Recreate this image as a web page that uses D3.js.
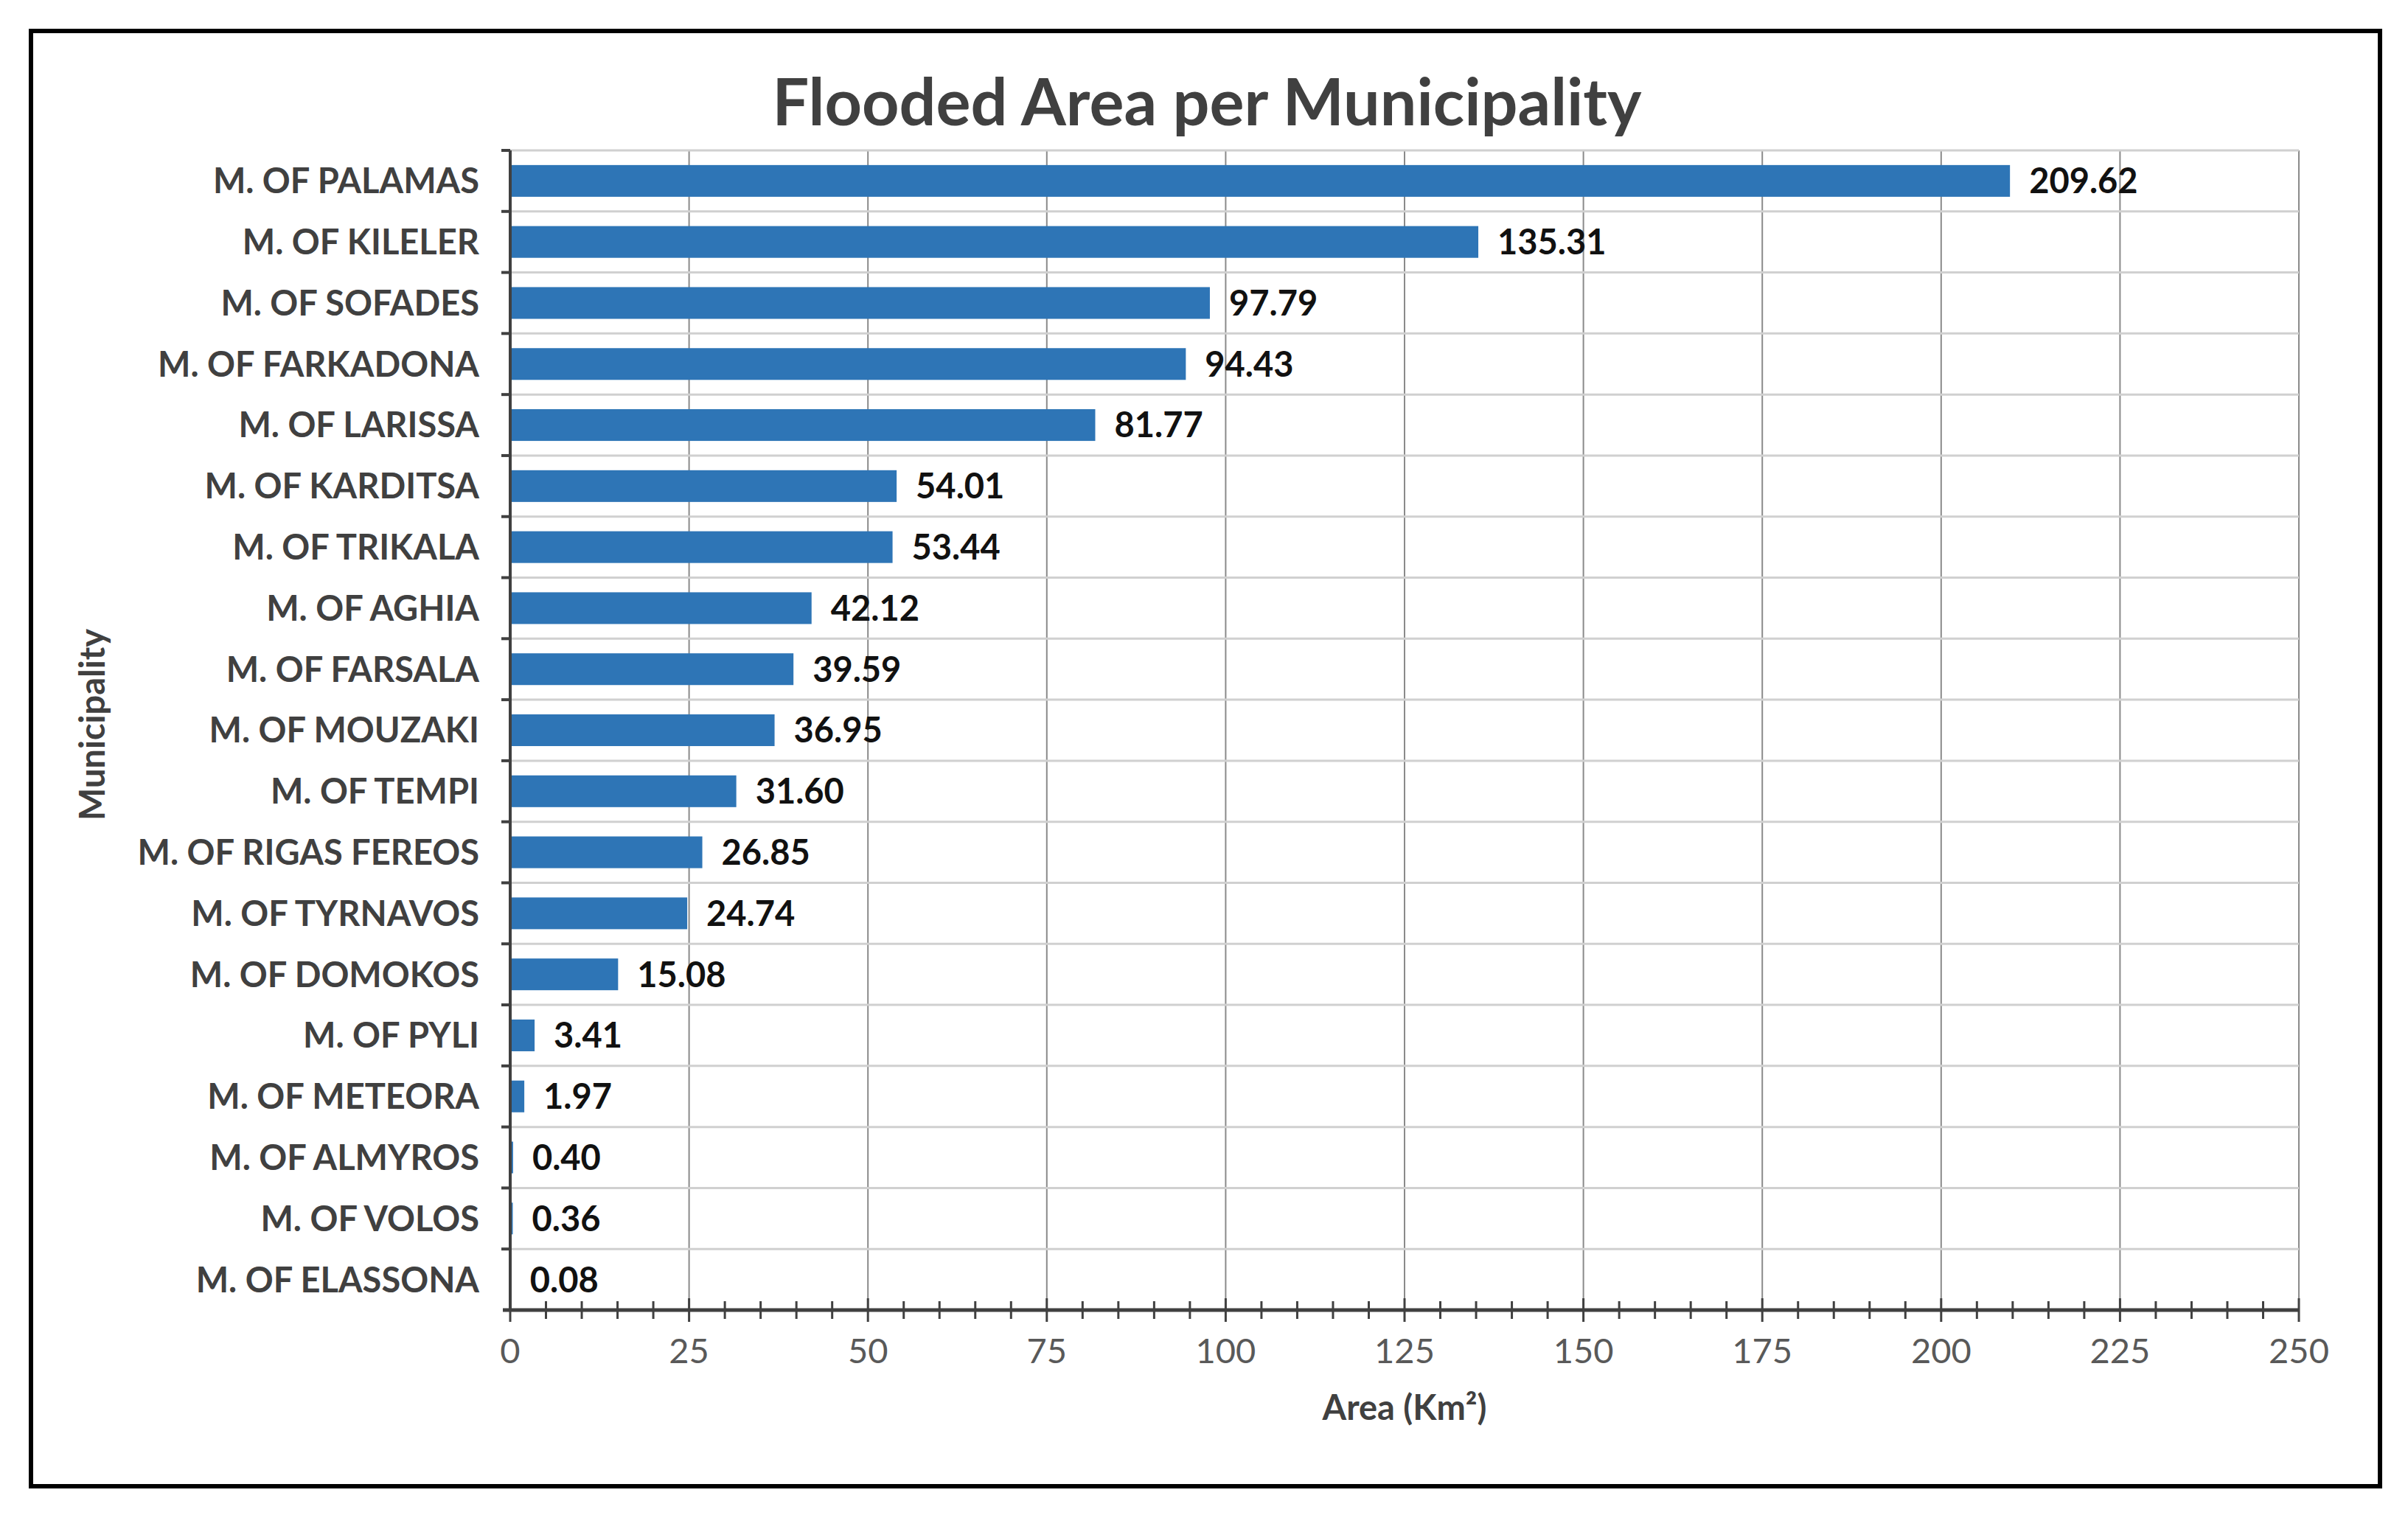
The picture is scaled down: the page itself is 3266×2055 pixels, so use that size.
<!DOCTYPE html>
<html><head><meta charset="utf-8">
<script src="https://cdn.jsdelivr.net/npm/d3@7"></script>
<style>body{margin:0;background:#fff}</style></head>
<body><svg id="c" width="3266" height="2055"></svg>
<script>
const categories=["M. OF PALAMAS","M. OF KILELER","M. OF SOFADES","M. OF FARKADONA","M. OF LARISSA","M. OF KARDITSA","M. OF TRIKALA","M. OF AGHIA","M. OF FARSALA","M. OF MOUZAKI","M. OF TEMPI","M. OF RIGAS FEREOS","M. OF TYRNAVOS","M. OF DOMOKOS","M. OF PYLI","M. OF METEORA","M. OF ALMYROS","M. OF VOLOS","M. OF ELASSONA"];
const values=[209.62,135.31,97.79,94.43,81.77,54.01,53.44,42.12,39.59,36.95,31.60,26.85,24.74,15.08,3.41,1.97,0.40,0.36,0.08];
const xTicks=[0,25,50,75,100,125,150,175,200,225,250];
const minorTicks=d3.range(0,251,5);

const svg=d3.select("#c");
const F="Lato, 'Open Sans', sans-serif";
svg.append("rect").attr("x",42).attr("y",42).attr("width",3186).attr("height",1974).attr("fill","#fff").attr("stroke","#000").attr("stroke-width",6);

const L=692,R=3118,T=204,B=1777;
const x=d3.scaleLinear().domain([0,250]).range([L,R]);
const y=d3.scaleBand().domain(categories).range([T,B]).paddingInner(0.48).paddingOuter(0.24);
const step=y.step();

const g=svg.append("g");
g.selectAll(".vg").data(xTicks.slice(1)).join("line").attr("x1",d=>x(d)).attr("x2",d=>x(d)).attr("y1",T).attr("y2",B).attr("stroke","#8a8a8a").attr("stroke-width",2);
const bounds=d3.range(0,categories.length).map(i=>T+i*step);
g.selectAll(".hg").data(bounds).join("line").attr("x1",L).attr("x2",R).attr("y1",d=>d).attr("y2",d=>d).attr("stroke","#d0d0d0").attr("stroke-width",3);

svg.selectAll(".bar").data(values).join("rect")
 .attr("x",L).attr("y",(d,i)=>y(categories[i])).attr("width",d=>Math.max(x(d)-L,1.5)).attr("height",y.bandwidth())
 .attr("fill","#2E75B6");
svg.selectAll(".val").data(values).join("text")
 .attr("x",d=>x(d)+26).attr("y",(d,i)=>y(categories[i])+y.bandwidth()/2).attr("dy","0.36em")
 .attr("font-family",F).attr("font-weight","bold").attr("font-size",47).attr("fill","#111")
 .text(d=>d.toFixed(2));

svg.append("line").attr("x1",L).attr("x2",L).attr("y1",T).attr("y2",B).attr("stroke","#404040").attr("stroke-width",4);
svg.selectAll(".yt").data(bounds).join("line").attr("x1",L-12).attr("x2",L).attr("y1",d=>d).attr("y2",d=>d).attr("stroke","#404040").attr("stroke-width",4);
svg.selectAll(".yl").data(categories).join("text")
 .attr("x",L-42).attr("y",d=>y(d)+y.bandwidth()/2).attr("dy","0.36em").attr("text-anchor","end")
 .attr("font-family",F).attr("font-weight","bold").attr("font-size",47).attr("fill","#404040").text(d=>d);

svg.append("line").attr("x1",L-10).attr("x2",R).attr("y1",B).attr("y2",B).attr("stroke","#404040").attr("stroke-width",5);
svg.selectAll(".mt").data(minorTicks).join("line").attr("x1",d=>x(d)).attr("x2",d=>x(d))
 .attr("y1",d=>d%25===0?B-16:B-12).attr("y2",d=>d%25===0?B+16:B+12).attr("stroke","#404040").attr("stroke-width",3);
svg.selectAll(".xl").data(xTicks).join("text").attr("x",d=>x(d)).attr("y",B+72).attr("text-anchor","middle")
 .attr("font-family",F).attr("font-size",47).attr("fill","#595959").text(d=>d);

svg.append("text").attr("x",(L+R)/2).attr("y",1926).attr("text-anchor","middle").attr("font-family",F).attr("font-weight","bold").attr("font-size",47).attr("fill","#404040")
 .text("Area (Km²)");
svg.append("text").attr("transform","translate(142,983) rotate(-90)").attr("text-anchor","middle").attr("font-family",F).attr("font-weight","bold").attr("font-size",47).attr("fill","#404040").text("Municipality");
svg.append("text").attr("x",1637).attr("y",170).attr("text-anchor","middle").attr("font-family",F).attr("font-weight","bold").attr("font-size",88).attr("fill","#404040").text("Flooded Area per Municipality");
</script></body></html>
